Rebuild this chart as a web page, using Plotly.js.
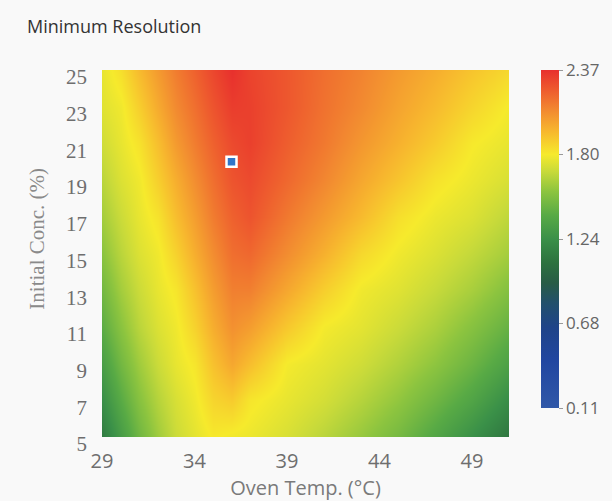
<!DOCTYPE html>
<html>
<head>
<meta charset="utf-8">
<script src="https://cdn.plot.ly/plotly-3.0.1.min.js"></script>
<style>html,body{margin:0;padding:0;background:#f9f9f9;}#chart{width:612px;height:501px;}</style>
</head>
<body>
<div id="chart"></div>
<script>
// Oven temperature (°C) grid columns
const ovenTemp = [29, 30, 31, 32, 33, 34, 35, 36, 37, 39, 41, 43, 45, 47, 49, 51];
// Initial concentration (%) grid rows
const initConc = [5, 7, 9, 11, 13, 15, 17, 19, 21, 23, 25];
// Minimum resolution (rows follow initConc, columns follow ovenTemp)
const res05 = [1.13, 1.31, 1.47, 1.60, 1.70, 1.76, 1.81, 1.79, 1.78, 1.73, 1.66, 1.58, 1.49, 1.37, 1.24, 1.10];
const res07 = [1.23, 1.40, 1.54, 1.65, 1.73, 1.79, 1.87, 1.90, 1.82, 1.77, 1.72, 1.65, 1.57, 1.47, 1.36, 1.22];
const res09 = [1.32, 1.48, 1.60, 1.70, 1.77, 1.82, 1.93, 2.01, 1.94, 1.80, 1.76, 1.71, 1.64, 1.56, 1.46, 1.34];
const res11 = [1.41, 1.55, 1.66, 1.74, 1.79, 1.88, 1.99, 2.08, 2.04, 1.91, 1.80, 1.76, 1.70, 1.63, 1.54, 1.44];
const res13 = [1.48, 1.61, 1.70, 1.77, 1.82, 1.93, 2.04, 2.13, 2.13, 2.01, 1.89, 1.79, 1.75, 1.69, 1.62, 1.53];
const res15 = [1.55, 1.66, 1.74, 1.79, 1.88, 1.99, 2.09, 2.18, 2.20, 2.09, 1.98, 1.86, 1.79, 1.74, 1.68, 1.61];
const res17 = [1.61, 1.70, 1.77, 1.83, 1.94, 2.04, 2.14, 2.22, 2.26, 2.15, 2.05, 1.95, 1.84, 1.78, 1.74, 1.67];
const res19 = [1.66, 1.74, 1.79, 1.89, 1.99, 2.09, 2.18, 2.26, 2.29, 2.20, 2.11, 2.01, 1.92, 1.83, 1.78, 1.73];
const res21 = [1.71, 1.77, 1.83, 1.94, 2.05, 2.14, 2.22, 2.29, 2.32, 2.23, 2.15, 2.06, 1.98, 1.90, 1.81, 1.77];
const res23 = [1.75, 1.79, 1.89, 2.00, 2.10, 2.18, 2.26, 2.33, 2.32, 2.25, 2.17, 2.10, 2.02, 1.95, 1.87, 1.80];
const res25 = [1.77, 1.84, 1.95, 2.05, 2.14, 2.22, 2.30, 2.37, 2.31, 2.25, 2.18, 2.12, 2.05, 1.99, 1.92, 1.86];
// Colour bar range and labels
const zMin = 0.11, zMax = 2.37;
const cbTickVals = [0.11, 0.675, 1.24, 1.805, 2.37];
const cbTickText = ['0.11', '0.68', '1.24', '1.80', '2.37'];
// Axis ticks
const xTicks = [29, 34, 39, 44, 49];
const yTicks = [5, 7, 9, 11, 13, 15, 17, 19, 21, 23, 25];
// Selected optimum point
const optTemp = [36];
const optConc = [20];

const zGrid = [res05, res07, res09, res11, res13, res15, res17, res19, res21, res23, res25];

const colorscale = [
  [0.00, '#3058a8'],
  [0.14, '#2146a0'],
  [0.24, '#1f4488'],
  [0.31, '#22506c'],
  [0.37, '#285c46'],
  [0.43, '#2d723f'],
  [0.50, '#3a9048'],
  [0.57, '#58aa45'],
  [0.64, '#8cc43f'],
  [0.70, '#c8da3a'],
  [0.75, '#f6ea2c'],
  [0.82, '#f7b62e'],
  [0.88, '#f28a30'],
  [0.94, '#ee5c2e'],
  [1.00, '#e8302d']
];

const traces = [
  {
    type: 'heatmap',
    x: ovenTemp,
    y: initConc,
    z: zGrid,
    zsmooth: 'best',
    zmin: zMin,
    zmax: zMax,
    colorscale: colorscale,
    hoverinfo: 'skip',
    colorbar: {
      thickness: 18, thicknessmode: 'pixels',
      len: 338, lenmode: 'pixels',
      x: 1.078, xanchor: 'left', xpad: 0,
      y: 1, yanchor: 'top', ypad: 0,
      outlinewidth: 0,
      ticks: 'outside', ticklen: 4, tickcolor: '#999',
      tickvals: cbTickVals, ticktext: cbTickText,
      tickfont: {family: 'Open Sans', size: 17, color: '#666'}
    }
  },
  {
    type: 'scatter',
    mode: 'markers',
    x: optTemp,
    y: optConc,
    marker: {symbol: 'square', size: 10, color: '#3075c8', line: {color: '#ffffff', width: 2.5}},
    hoverinfo: 'skip',
    showlegend: false
  }
];

const layout = {
  width: 612, height: 501,
  paper_bgcolor: '#f9f9f9',
  plot_bgcolor: '#f9f9f9',
  margin: {l: 102, r: 99, t: 70, b: 64},
  showlegend: false,
  title: {
    text: 'Minimum Resolution',
    font: {family: 'Open Sans', size: 18, color: '#333'},
    xref: 'container', yref: 'container',
    x: 27 / 612, xanchor: 'left',
    y: 1 - 27 / 501, yanchor: 'middle'
  },
  xaxis: {
    range: [29, 51],
    tickvals: xTicks,
    showgrid: false, zeroline: false, showline: false,
    ticks: '', ticklabelstandoff: 10,
    tickfont: {family: 'Open Sans', size: 20, color: '#6e6e6e'},
    title: {text: 'Oven Temp. (°C)', font: {family: 'Open Sans', size: 20, color: '#7a7a7a'}, standoff: 4}
  },
  yaxis: {
    range: [5, 25],
    tickvals: yTicks,
    showgrid: false, zeroline: false, showline: false,
    ticks: '', ticklabelstandoff: 14, ticklabelshift: 7,
    tickfont: {family: 'Liberation Serif', size: 21, color: '#6e6e6e'}
  },
  annotations: [
    {
      text: 'Initial Conc. (%)',
      textangle: -90,
      xref: 'paper', yref: 'paper',
      x: (36 - 102) / 411, y: (437 - 239) / 367,
      xanchor: 'center', yanchor: 'middle',
      showarrow: false,
      font: {family: 'Liberation Serif', size: 21, color: '#8a8a8a'}
    }
  ]
};

Plotly.newPlot('chart', traces, layout, {displayModeBar: false, staticPlot: true});
</script>
</body>
</html>
